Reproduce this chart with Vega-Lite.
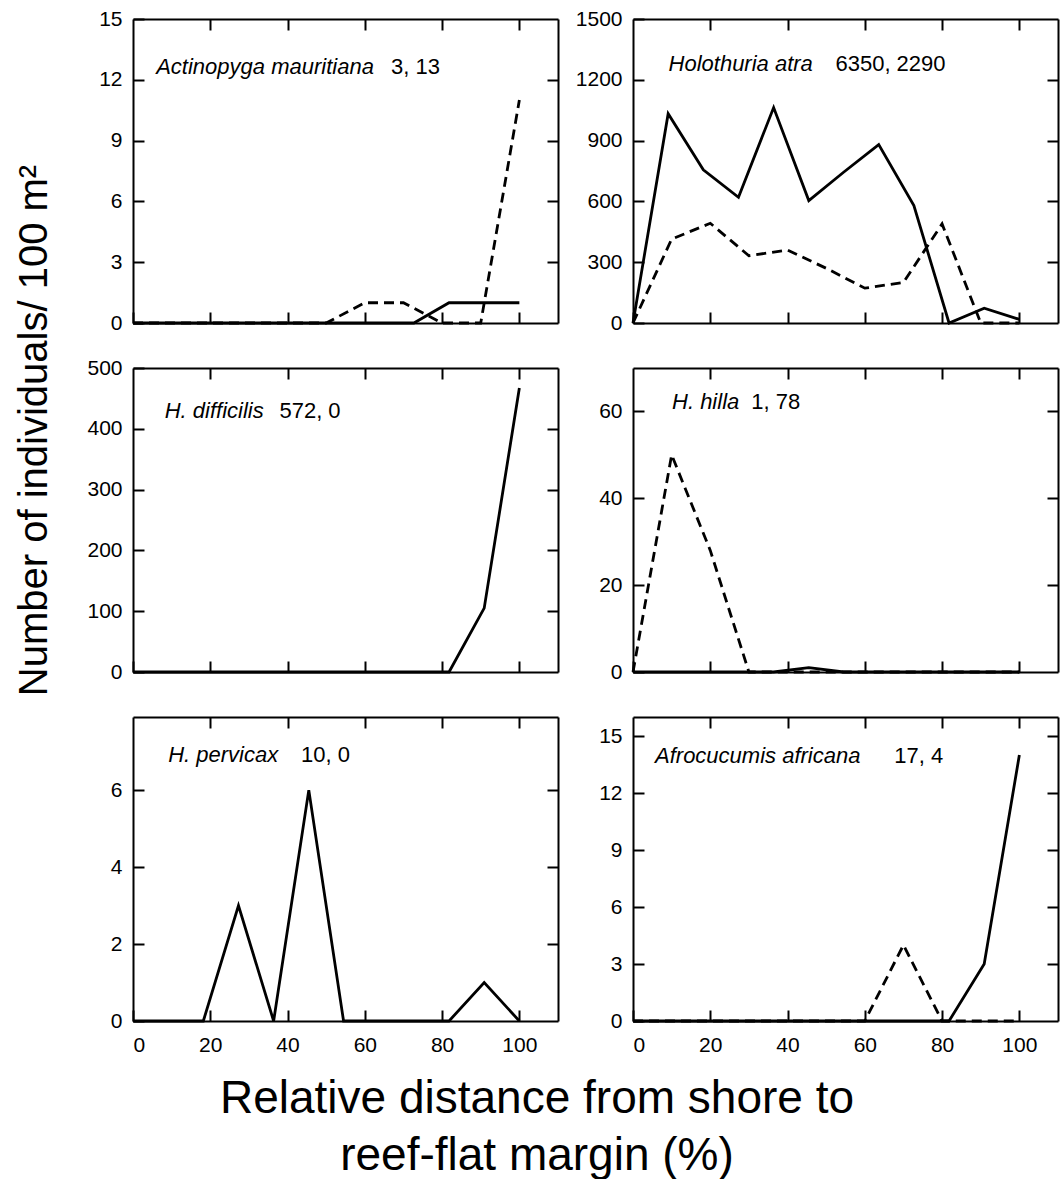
{
  "$schema": "https://vega.github.io/schema/vega-lite/v6.json",
  "padding": {"left": 14, "top": 8, "right": 4, "bottom": 0},
  "background": "white",
  "config": {
    "view": {"stroke": null},
    "font": "Liberation Sans",
    "scale": {"nice": false, "zero": false},
    "axis": {
      "grid": false,
      "domainColor": "black",
      "domainWidth": 2,
      "tickColor": "black",
      "tickWidth": 2,
      "tickSize": -11,
      "labelFont": "Liberation Sans",
      "labelFontSize": 21,
      "labelColor": "black",
      "labelPadding": 22,
      "format": "d",
      "title": null
    },
    "text": {"font": "Liberation Sans", "fontSize": 22, "align": "left", "baseline": "alphabetic", "color": "black"},
    "line": {"color": "black", "strokeWidth": 2.8, "clip": true}
  },
  "title": {
    "text": ["Relative distance from shore to", "reef-flat margin (%)"],
    "orient": "bottom",
    "anchor": "middle",
    "font": "Liberation Sans",
    "fontSize": 46,
    "fontWeight": "normal",
    "color": "black",
    "lineHeight": 57,
    "offset": 22
  },
  "data": {
    "values": [
      {"p": "A", "s": "label", "name": "Actinopyga mauritiana", "n": "3, 13"},
      {"p": "B", "s": "label", "name": "Holothuria atra", "n": "6350, 2290"},
      {"p": "C", "s": "label", "name": "H. difficilis", "n": "572, 0"},
      {"p": "D", "s": "label", "name": "H. hilla", "n": "1, 78"},
      {"p": "E", "s": "label", "name": "H. pervicax", "n": "10, 0"},
      {"p": "F", "s": "label", "name": "Afrocucumis africana", "n": "17, 4"},
      {"p": "A", "s": "solid", "x": 0, "y": 0}, {"p": "A", "s": "solid", "x": 9.1, "y": 0}, {"p": "A", "s": "solid", "x": 18.2, "y": 0}, {"p": "A", "s": "solid", "x": 27.3, "y": 0}, {"p": "A", "s": "solid", "x": 36.4, "y": 0}, {"p": "A", "s": "solid", "x": 45.5, "y": 0}, {"p": "A", "s": "solid", "x": 54.5, "y": 0}, {"p": "A", "s": "solid", "x": 63.6, "y": 0}, {"p": "A", "s": "solid", "x": 72.7, "y": 0}, {"p": "A", "s": "solid", "x": 81.8, "y": 1}, {"p": "A", "s": "solid", "x": 90.9, "y": 1}, {"p": "A", "s": "solid", "x": 100, "y": 1},
      {"p": "A", "s": "dashed", "x": 0, "y": 0}, {"p": "A", "s": "dashed", "x": 10, "y": 0}, {"p": "A", "s": "dashed", "x": 20, "y": 0}, {"p": "A", "s": "dashed", "x": 30, "y": 0}, {"p": "A", "s": "dashed", "x": 40, "y": 0}, {"p": "A", "s": "dashed", "x": 50, "y": 0}, {"p": "A", "s": "dashed", "x": 60, "y": 1}, {"p": "A", "s": "dashed", "x": 70, "y": 1}, {"p": "A", "s": "dashed", "x": 80, "y": 0}, {"p": "A", "s": "dashed", "x": 90, "y": 0}, {"p": "A", "s": "dashed", "x": 100, "y": 11},
      {"p": "B", "s": "solid", "x": 0, "y": 0}, {"p": "B", "s": "solid", "x": 9.1, "y": 1033}, {"p": "B", "s": "solid", "x": 18.2, "y": 756}, {"p": "B", "s": "solid", "x": 27.3, "y": 620}, {"p": "B", "s": "solid", "x": 36.4, "y": 1063}, {"p": "B", "s": "solid", "x": 45.5, "y": 604}, {"p": "B", "s": "solid", "x": 54.5, "y": 744}, {"p": "B", "s": "solid", "x": 63.6, "y": 880}, {"p": "B", "s": "solid", "x": 72.7, "y": 579}, {"p": "B", "s": "solid", "x": 81.8, "y": 0}, {"p": "B", "s": "solid", "x": 90.9, "y": 73}, {"p": "B", "s": "solid", "x": 100, "y": 18},
      {"p": "B", "s": "dashed", "x": 0, "y": 0}, {"p": "B", "s": "dashed", "x": 10, "y": 414}, {"p": "B", "s": "dashed", "x": 20, "y": 492}, {"p": "B", "s": "dashed", "x": 30, "y": 332}, {"p": "B", "s": "dashed", "x": 40, "y": 360}, {"p": "B", "s": "dashed", "x": 50, "y": 270}, {"p": "B", "s": "dashed", "x": 60, "y": 172}, {"p": "B", "s": "dashed", "x": 70, "y": 200}, {"p": "B", "s": "dashed", "x": 80, "y": 489}, {"p": "B", "s": "dashed", "x": 90, "y": 0}, {"p": "B", "s": "dashed", "x": 100, "y": 0},
      {"p": "C", "s": "solid", "x": 0, "y": 0}, {"p": "C", "s": "solid", "x": 9.1, "y": 0}, {"p": "C", "s": "solid", "x": 18.2, "y": 0}, {"p": "C", "s": "solid", "x": 27.3, "y": 0}, {"p": "C", "s": "solid", "x": 36.4, "y": 0}, {"p": "C", "s": "solid", "x": 45.5, "y": 0}, {"p": "C", "s": "solid", "x": 54.5, "y": 0}, {"p": "C", "s": "solid", "x": 63.6, "y": 0}, {"p": "C", "s": "solid", "x": 72.7, "y": 0}, {"p": "C", "s": "solid", "x": 81.8, "y": 0}, {"p": "C", "s": "solid", "x": 90.9, "y": 105}, {"p": "C", "s": "solid", "x": 100, "y": 467},
      {"p": "D", "s": "solid", "x": 0, "y": 0}, {"p": "D", "s": "solid", "x": 9.1, "y": 0}, {"p": "D", "s": "solid", "x": 18.2, "y": 0}, {"p": "D", "s": "solid", "x": 27.3, "y": 0}, {"p": "D", "s": "solid", "x": 36.4, "y": 0}, {"p": "D", "s": "solid", "x": 45.5, "y": 1}, {"p": "D", "s": "solid", "x": 54.5, "y": 0}, {"p": "D", "s": "solid", "x": 63.6, "y": 0}, {"p": "D", "s": "solid", "x": 72.7, "y": 0}, {"p": "D", "s": "solid", "x": 81.8, "y": 0}, {"p": "D", "s": "solid", "x": 90.9, "y": 0}, {"p": "D", "s": "solid", "x": 100, "y": 0},
      {"p": "D", "s": "dashed", "x": 0, "y": 0}, {"p": "D", "s": "dashed", "x": 10, "y": 50}, {"p": "D", "s": "dashed", "x": 20, "y": 28}, {"p": "D", "s": "dashed", "x": 30, "y": 0}, {"p": "D", "s": "dashed", "x": 40, "y": 0}, {"p": "D", "s": "dashed", "x": 50, "y": 0}, {"p": "D", "s": "dashed", "x": 60, "y": 0}, {"p": "D", "s": "dashed", "x": 70, "y": 0}, {"p": "D", "s": "dashed", "x": 80, "y": 0}, {"p": "D", "s": "dashed", "x": 90, "y": 0}, {"p": "D", "s": "dashed", "x": 100, "y": 0},
      {"p": "E", "s": "solid", "x": 0, "y": 0}, {"p": "E", "s": "solid", "x": 9.1, "y": 0}, {"p": "E", "s": "solid", "x": 18.2, "y": 0}, {"p": "E", "s": "solid", "x": 27.3, "y": 3}, {"p": "E", "s": "solid", "x": 36.4, "y": 0}, {"p": "E", "s": "solid", "x": 45.5, "y": 6}, {"p": "E", "s": "solid", "x": 54.5, "y": 0}, {"p": "E", "s": "solid", "x": 63.6, "y": 0}, {"p": "E", "s": "solid", "x": 72.7, "y": 0}, {"p": "E", "s": "solid", "x": 81.8, "y": 0}, {"p": "E", "s": "solid", "x": 90.9, "y": 1}, {"p": "E", "s": "solid", "x": 100, "y": 0},
      {"p": "F", "s": "solid", "x": 0, "y": 0}, {"p": "F", "s": "solid", "x": 9.1, "y": 0}, {"p": "F", "s": "solid", "x": 18.2, "y": 0}, {"p": "F", "s": "solid", "x": 27.3, "y": 0}, {"p": "F", "s": "solid", "x": 36.4, "y": 0}, {"p": "F", "s": "solid", "x": 45.5, "y": 0}, {"p": "F", "s": "solid", "x": 54.5, "y": 0}, {"p": "F", "s": "solid", "x": 63.6, "y": 0}, {"p": "F", "s": "solid", "x": 72.7, "y": 0}, {"p": "F", "s": "solid", "x": 81.8, "y": 0}, {"p": "F", "s": "solid", "x": 90.9, "y": 3}, {"p": "F", "s": "solid", "x": 100, "y": 14},
      {"p": "F", "s": "dashed", "x": 0, "y": 0}, {"p": "F", "s": "dashed", "x": 10, "y": 0}, {"p": "F", "s": "dashed", "x": 20, "y": 0}, {"p": "F", "s": "dashed", "x": 30, "y": 0}, {"p": "F", "s": "dashed", "x": 40, "y": 0}, {"p": "F", "s": "dashed", "x": 50, "y": 0}, {"p": "F", "s": "dashed", "x": 60, "y": 0}, {"p": "F", "s": "dashed", "x": 70, "y": 4}, {"p": "F", "s": "dashed", "x": 80, "y": 0}, {"p": "F", "s": "dashed", "x": 90, "y": 0}, {"p": "F", "s": "dashed", "x": 100, "y": 0}
    ]
  },
  "columns": 2,
  "bounds": "flush",
  "spacing": {"row": 45, "column": 75},
  "concat": [
    {
      "width": 425, "height": 304,
      "transform": [{"filter": "datum.p === 'A'"}],
      "layer": [
        {"transform": [{"filter": "datum.s === 'solid'"}],
         "mark": {"type": "line"},
         "encoding": {
           "x": {"field": "x", "type": "quantitative", "scale": {"domain": [0, 110], "nice": false}, "axis": {"values": [0, 20, 40, 60, 80, 100], "labels": false}},
           "y": {"field": "y", "type": "quantitative", "scale": {"domain": [0, 15], "nice": false}, "axis": {"values": [0, 3, 6, 9, 12, 15]}}}},
        {"transform": [{"filter": "datum.s === 'dashed'"}],
         "mark": {"type": "line", "strokeDash": [10, 6]},
         "encoding": {
           "x": {"field": "x", "type": "quantitative", "axis": {"orient": "top", "values": [20, 40, 60, 80, 100], "labels": false}},
           "y": {"field": "y", "type": "quantitative", "axis": {"orient": "right", "values": [3, 6, 9, 12], "labels": false}}}},
        {"transform": [{"filter": "datum.s === 'label'"}],
         "mark": {"type": "text", "fontStyle": "italic"},
         "encoding": {"text": {"field": "name"}, "x": {"datum": 6, "type": "quantitative", "axis": null}, "y": {"datum": 12.3, "type": "quantitative", "axis": null}}},
        {"transform": [{"filter": "datum.s === 'label'"}],
         "mark": {"type": "text"},
         "encoding": {"text": {"field": "n"}, "x": {"datum": 66.8, "type": "quantitative", "axis": null}, "y": {"datum": 12.3, "type": "quantitative", "axis": null}}}
      ],
      "resolve": {"axis": {"x": "independent", "y": "independent"}}
    },
    {
      "width": 425, "height": 304,
      "transform": [{"filter": "datum.p === 'B'"}],
      "layer": [
        {"transform": [{"filter": "datum.s === 'solid'"}],
         "mark": {"type": "line"},
         "encoding": {
           "x": {"field": "x", "type": "quantitative", "scale": {"domain": [0, 110], "nice": false}, "axis": {"values": [0, 20, 40, 60, 80, 100], "labels": false}},
           "y": {"field": "y", "type": "quantitative", "scale": {"domain": [0, 1500], "nice": false}, "axis": {"values": [0, 300, 600, 900, 1200, 1500]}}}},
        {"transform": [{"filter": "datum.s === 'dashed'"}],
         "mark": {"type": "line", "strokeDash": [10, 6]},
         "encoding": {
           "x": {"field": "x", "type": "quantitative", "axis": {"orient": "top", "values": [20, 40, 60, 80, 100], "labels": false}},
           "y": {"field": "y", "type": "quantitative", "axis": {"orient": "right", "values": [300, 600, 900, 1200], "labels": false}}}},
        {"transform": [{"filter": "datum.s === 'label'"}],
         "mark": {"type": "text", "fontStyle": "italic"},
         "encoding": {"text": {"field": "name"}, "x": {"datum": 9.2, "type": "quantitative", "axis": null}, "y": {"datum": 1243, "type": "quantitative", "axis": null}}},
        {"transform": [{"filter": "datum.s === 'label'"}],
         "mark": {"type": "text"},
         "encoding": {"text": {"field": "n"}, "x": {"datum": 52.4, "type": "quantitative", "axis": null}, "y": {"datum": 1243, "type": "quantitative", "axis": null}}}
      ],
      "resolve": {"axis": {"x": "independent", "y": "independent"}}
    },
    {
      "width": 425, "height": 304,
      "transform": [{"filter": "datum.p === 'C'"}],
      "layer": [
        {"transform": [{"filter": "datum.s === 'solid'"}],
         "mark": {"type": "line"},
         "encoding": {
           "x": {"field": "x", "type": "quantitative", "scale": {"domain": [0, 110], "nice": false}, "axis": {"values": [0, 20, 40, 60, 80, 100], "labels": false}},
           "y": {"field": "y", "type": "quantitative", "scale": {"domain": [0, 500], "nice": false}, "axis": {"values": [0, 100, 200, 300, 400, 500], "title": "Number of individuals/ 100 m²", "titleFont": "Liberation Sans", "titleFontSize": 40, "titleFontWeight": "normal", "titleColor": "black", "titlePadding": 32, "titleY": 62}}}},
        {"transform": [{"filter": "datum.s === 'solid'"}],
         "mark": {"type": "line", "strokeOpacity": 0},
         "encoding": {
           "x": {"field": "x", "type": "quantitative", "axis": {"orient": "top", "values": [20, 40, 60, 80, 100], "labels": false}},
           "y": {"field": "y", "type": "quantitative", "axis": {"orient": "right", "values": [100, 200, 300, 400], "labels": false}}}},
        {"transform": [{"filter": "datum.s === 'label'"}],
         "mark": {"type": "text", "fontStyle": "italic"},
         "encoding": {"text": {"field": "name"}, "x": {"datum": 8.2, "type": "quantitative", "axis": null}, "y": {"datum": 417, "type": "quantitative", "axis": null}}},
        {"transform": [{"filter": "datum.s === 'label'"}],
         "mark": {"type": "text"},
         "encoding": {"text": {"field": "n"}, "x": {"datum": 37.9, "type": "quantitative", "axis": null}, "y": {"datum": 417, "type": "quantitative", "axis": null}}}
      ],
      "resolve": {"axis": {"x": "independent", "y": "independent"}}
    },
    {
      "width": 425, "height": 304,
      "transform": [{"filter": "datum.p === 'D'"}],
      "layer": [
        {"transform": [{"filter": "datum.s === 'solid'"}],
         "mark": {"type": "line"},
         "encoding": {
           "x": {"field": "x", "type": "quantitative", "scale": {"domain": [0, 110], "nice": false}, "axis": {"values": [0, 20, 40, 60, 80, 100], "labels": false}},
           "y": {"field": "y", "type": "quantitative", "scale": {"domain": [0, 70], "nice": false}, "axis": {"values": [0, 20, 40, 60]}}}},
        {"transform": [{"filter": "datum.s === 'dashed'"}],
         "mark": {"type": "line", "strokeDash": [10, 6]},
         "encoding": {
           "x": {"field": "x", "type": "quantitative", "axis": {"orient": "top", "values": [20, 40, 60, 80, 100], "labels": false}},
           "y": {"field": "y", "type": "quantitative", "axis": {"orient": "right", "values": [20, 40, 60], "labels": false}}}},
        {"transform": [{"filter": "datum.s === 'label'"}],
         "mark": {"type": "text", "fontStyle": "italic"},
         "encoding": {"text": {"field": "name"}, "x": {"datum": 10.1, "type": "quantitative", "axis": null}, "y": {"datum": 60.6, "type": "quantitative", "axis": null}}},
        {"transform": [{"filter": "datum.s === 'label'"}],
         "mark": {"type": "text"},
         "encoding": {"text": {"field": "n"}, "x": {"datum": 30.6, "type": "quantitative", "axis": null}, "y": {"datum": 60.6, "type": "quantitative", "axis": null}}}
      ],
      "resolve": {"axis": {"x": "independent", "y": "independent"}}
    },
    {
      "width": 425, "height": 304,
      "transform": [{"filter": "datum.p === 'E'"}],
      "layer": [
        {"transform": [{"filter": "datum.s === 'solid'"}],
         "mark": {"type": "line"},
         "encoding": {
           "x": {"field": "x", "type": "quantitative", "scale": {"domain": [0, 110], "nice": false}, "axis": {"values": [0, 20, 40, 60, 80, 100], "labelPadding": 24}},
           "y": {"field": "y", "type": "quantitative", "scale": {"domain": [0, 7.9], "nice": false}, "axis": {"values": [0, 2, 4, 6]}}}},
        {"transform": [{"filter": "datum.s === 'solid'"}],
         "mark": {"type": "line", "strokeOpacity": 0},
         "encoding": {
           "x": {"field": "x", "type": "quantitative", "axis": {"orient": "top", "values": [20, 40, 60, 80, 100], "labels": false}},
           "y": {"field": "y", "type": "quantitative", "axis": {"orient": "right", "values": [2, 4, 6], "labels": false}}}},
        {"transform": [{"filter": "datum.s === 'label'"}],
         "mark": {"type": "text", "fontStyle": "italic"},
         "encoding": {"text": {"field": "name"}, "x": {"datum": 9.1, "type": "quantitative", "axis": null}, "y": {"datum": 6.73, "type": "quantitative", "axis": null}}},
        {"transform": [{"filter": "datum.s === 'label'"}],
         "mark": {"type": "text"},
         "encoding": {"text": {"field": "n"}, "x": {"datum": 43.5, "type": "quantitative", "axis": null}, "y": {"datum": 6.73, "type": "quantitative", "axis": null}}}
      ],
      "resolve": {"axis": {"x": "independent", "y": "independent"}}
    },
    {
      "width": 425, "height": 304,
      "transform": [{"filter": "datum.p === 'F'"}],
      "layer": [
        {"transform": [{"filter": "datum.s === 'solid'"}],
         "mark": {"type": "line"},
         "encoding": {
           "x": {"field": "x", "type": "quantitative", "scale": {"domain": [0, 110], "nice": false}, "axis": {"values": [0, 20, 40, 60, 80, 100], "labelPadding": 24}},
           "y": {"field": "y", "type": "quantitative", "scale": {"domain": [0, 16], "nice": false}, "axis": {"values": [0, 3, 6, 9, 12, 15]}}}},
        {"transform": [{"filter": "datum.s === 'dashed'"}],
         "mark": {"type": "line", "strokeDash": [10, 6]},
         "encoding": {
           "x": {"field": "x", "type": "quantitative", "axis": {"orient": "top", "values": [20, 40, 60, 80, 100], "labels": false}},
           "y": {"field": "y", "type": "quantitative", "axis": {"orient": "right", "values": [3, 6, 9, 12, 15], "labels": false}}}},
        {"transform": [{"filter": "datum.s === 'label'"}],
         "mark": {"type": "text", "fontStyle": "italic"},
         "encoding": {"text": {"field": "name"}, "x": {"datum": 5.7, "type": "quantitative", "axis": null}, "y": {"datum": 13.6, "type": "quantitative", "axis": null}}},
        {"transform": [{"filter": "datum.s === 'label'"}],
         "mark": {"type": "text"},
         "encoding": {"text": {"field": "n"}, "x": {"datum": 67.6, "type": "quantitative", "axis": null}, "y": {"datum": 13.6, "type": "quantitative", "axis": null}}}
      ],
      "resolve": {"axis": {"x": "independent", "y": "independent"}}
    }
  ]
}
